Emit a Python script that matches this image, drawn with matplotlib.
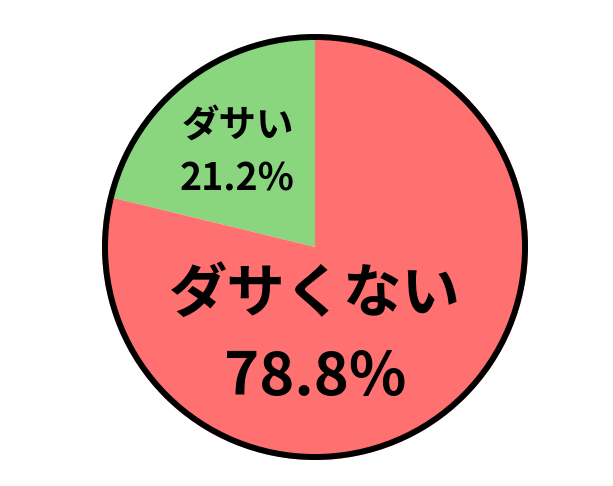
import matplotlib
matplotlib.use("Agg")
import matplotlib.pyplot as plt
from matplotlib.patches import Circle

labels = ["ダサい", "ダサくない"]
values = [21.2, 78.8]
colors = ["#8AD67F", "#FF7070"]

plt.rcParams['font.family'] = ['Noto Sans CJK JP', 'DejaVu Sans']

fig = plt.figure(figsize=(6.13, 4.86), dpi=100)
ax = fig.add_axes([0, 0, 1, 1])

R = 213.0
cx, cy = 315.0, 247.0

wedges, _ = ax.pie(values, colors=colors, startangle=90, counterclock=True,
                   radius=1.0, wedgeprops=dict(linewidth=0), frame=True)
ax.set_xlim(-cx / R, (613 - cx) / R)
ax.set_ylim(-(486 - cy) / R, cy / R)
ax.set_aspect('auto')
ax.axis('off')

ax.add_patch(Circle((0, 0), 1 - 3.0 / R, fill=False, edgecolor='black', linewidth=4.3))

ax.text(-0.364, 0.573, labels[0], ha='center', va='center', fontsize=27, fontweight='bold')
ax.text(-0.364, 0.319, f"{values[0]}%", ha='center', va='center', fontsize=27, fontweight='bold')
ax.text(0.0, -0.225, labels[1], ha='center', va='center', fontsize=42, fontweight='bold')
ax.text(0.0, -0.615, f"{values[1]}%", ha='center', va='center', fontsize=43, fontweight='bold')

fig.savefig("out.png", dpi=100)
